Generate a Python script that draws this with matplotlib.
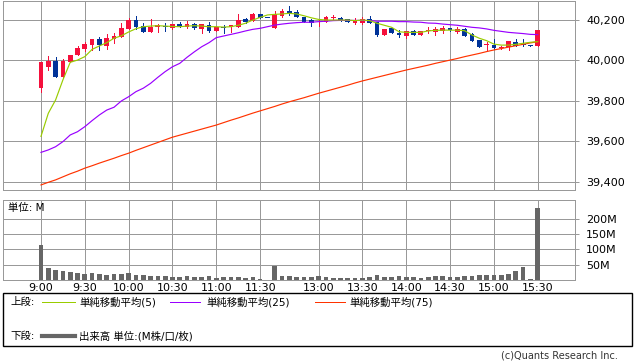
import matplotlib.pyplot as plt
from matplotlib.lines import Line2D
from matplotlib.patches import Rectangle
from matplotlib.ticker import FuncFormatter

plt.rcParams['font.family'] = ['DejaVu Sans', 'Noto Sans CJK JP']

# 5-minute candles, index 0 = 9:00, index 68 = 15:30
opens = [39866, 39969, 39997, 39920, 39991, 40027, 40057, 40076, 40106, 40073,
         40105, 40118, 40154, 40200, 40172, 40142, 40167, 40172, 40159, 40180,
         40167, 40180, 40154, 40175, 40147, 40165, 40164, 40167, 40205, 40197,
         40228, 40212, 40162, 40221, 40244, 40238, 40216, 40200, 40188, 40192,
         40212, 40208, 40205, 40187, 40187, 40205, 40189, 40127, 40160, 40134,
         40122, 40146, 40127, 40145, 40142, 40146, 40160, 40142, 40155, 40129,
         40101, 40076, 40078, 40060, 40065, 40090, 40080, 40075, 40073]
highs = [39993, 40022, 40017, 40006, 40027, 40073, 40091, 40106, 40116, 40131,
         40136, 40187, 40211, 40220, 40184, 40205, 40180, 40184, 40180, 40190,
         40195, 40185, 40182, 40190, 40170, 40175, 40177, 40230, 40212, 40233,
         40228, 40212, 40244, 40254, 40269, 40250, 40216, 40203, 40203, 40220,
         40225, 40213, 40205, 40208, 40217, 40220, 40189, 40157, 40160, 40151,
         40146, 40151, 40147, 40164, 40164, 40170, 40160, 40165, 40159, 40134,
         40101, 40093, 40105, 40070, 40095, 40105, 40106, 40076, 40151]
lows = [39846, 39953, 39920, 39912, 39991, 40027, 40048, 40052, 40052, 40057,
        40088, 40118, 40154, 40155, 40142, 40142, 40139, 40147, 40155, 40165,
        40159, 40155, 40134, 40139, 40145, 40134, 40142, 40167, 40185, 40197,
        40211, 40210, 40162, 40216, 40225, 40216, 40190, 40172, 40172, 40192,
        40200, 40197, 40188, 40180, 40180, 40187, 40122, 40127, 40134, 40118,
        40110, 40127, 40125, 40134, 40127, 40135, 40148, 40135, 40122, 40098,
        40068, 40052, 40055, 40055, 40052, 40073, 40073, 40073, 40073]
closes = [39993, 39997, 39920, 39997, 40027, 40063, 40083, 40106, 40076, 40111,
          40121, 40160, 40200, 40167, 40142, 40167, 40175, 40167, 40180, 40167,
          40180, 40159, 40180, 40147, 40167, 40163, 40177, 40200, 40192, 40228,
          40211, 40210, 40230, 40244, 40236, 40216, 40190, 40184, 40190, 40216,
          40214, 40197, 40188, 40200, 40203, 40187, 40127, 40157, 40134, 40126,
          40146, 40127, 40144, 40148, 40155, 40160, 40150, 40155, 40122, 40098,
          40068, 40080, 40060, 40065, 40095, 40073, 40078, 40073, 40151]

ma5 = [39625, 39739, 39805, 39904, 39991, 40002, 40019, 40055, 40072, 40088,
       40110, 40122, 40141, 40157, 40167, 40170, 40172, 40170, 40168, 40167,
       40170, 40172, 40170, 40167, 40167, 40165, 40167, 40174, 40184, 40200,
       40213, 40225, 40228, 40230, 40233, 40230, 40221, 40211, 40203, 40200,
       40200, 40200, 40200, 40197, 40200, 40197, 40184, 40174, 40164, 40142,
       40139, 40139, 40139, 40146, 40149, 40150, 40150, 40150, 40147, 40126,
       40110, 40098, 40081, 40076, 40076, 40080, 40085, 40090, 40093]
ma25 = [39546, 39558, 39574, 39599, 39632, 39648, 39673, 39703, 39731, 39755,
        39769, 39800, 39821, 39846, 39863, 39887, 39917, 39945, 39969, 39986,
        40016, 40043, 40068, 40088, 40113, 40121, 40129, 40137, 40146, 40154,
        40159, 40167, 40175, 40180, 40184, 40187, 40189, 40189, 40192, 40194,
        40197, 40198, 40198, 40198, 40198, 40197, 40194, 40194, 40194, 40192,
        40192, 40190, 40189, 40185, 40184, 40180, 40177, 40174, 40169, 40164,
        40161, 40156, 40149, 40144, 40139, 40136, 40133, 40129, 40128]
ma75 = [39385, 39398, 39410, 39425, 39440, 39453, 39468, 39480, 39493, 39505,
        39517, 39530, 39542, 39556, 39569, 39582, 39595, 39608, 39621, 39631,
        39641, 39651, 39661, 39671, 39681, 39693, 39705, 39716, 39728, 39740,
        39751, 39762, 39773, 39785, 39796, 39806, 39816, 39827, 39838, 39848,
        39858, 39868, 39878, 39889, 39899, 39908, 39917, 39926, 39935, 39944,
        39953, 39961, 39969, 39977, 39986, 39994, 40002, 40010, 40019, 40027,
        40035, 40044, 40052, 40059, 40066, 40073, 40080, 40087, 40093]

# volume in millions
volume = [114, 39, 34, 30, 26, 23, 20, 23, 20, 16, 20, 20, 23, 16, 16, 13, 13, 13,
          10, 10, 13, 10, 10, 13, 7, 10, 10, 10, 7, 10, 2, 0, 46, 13, 13, 10, 10,
          10, 13, 10, 7, 7, 7, 7, 7, 10, 15, 10, 10, 13, 10, 10, 7, 10, 13, 13,
          10, 10, 13, 13, 16, 16, 16, 16, 20, 29, 44, 2, 237]

tick_pos = [0, 6, 12, 18, 24, 30, 38, 44, 50, 56, 62, 68]
tick_labels = ['9:00', '9:30', '10:00', '10:30', '11:00', '11:30',
               '13:00', '13:30', '14:00', '14:30', '15:00', '15:30']

RED = '#f5103c'
BLUE = '#003399'
GRID = '#999999'
LW = 0.72  # one pixel at 100 dpi

W, H = 638, 362
fig = plt.figure(figsize=(W / 100, H / 100), dpi=100)


def box(x0, y0, x1, y1):
    return [x0 / W, 1 - y1 / H, (x1 - x0) / W, (y1 - y0) / H]


ax = fig.add_axes(box(3, 1, 575, 190))
axv = fig.add_axes(box(3, 200, 575, 280))

# candles
idx = list(range(len(opens)))
colors = [RED if c >= o else BLUE for o, c in zip(opens, closes)]
ax.vlines(idx, lows, highs, colors=colors, lw=LW, antialiased=False, zorder=2)
bottoms = [min(o, c) for o, c in zip(opens, closes)]
heights = [max(abs(c - o), 4) for o, c in zip(opens, closes)]
ax.bar(idx, heights, bottom=bottoms, width=0.65, color=colors, lw=0, zorder=2)

# moving averages
ax.plot(idx, ma75, color='#ff3300', lw=0.85, zorder=3)
ax.plot(idx, ma25, color='#9900ff', lw=0.85, zorder=3)
ax.plot(idx, ma5, color='#99cc00', lw=0.85, zorder=3)

axv.bar(idx, volume, width=0.64, color='#666666', zorder=2)

for a in (ax, axv):
    a.set_xlim(-5.2, 73.1)
    a.set_xticks(tick_pos)
    a.grid(color=GRID, lw=LW, antialiased=False, zorder=0)
    a.set_axisbelow(True)
    for s in a.spines.values():
        s.set_color(GRID)
        s.set_linewidth(LW)
    a.yaxis.tick_right()
    a.tick_params(axis='y', length=3, width=LW, color=GRID, labelsize=8, pad=5)
    a.tick_params(axis='x', length=0)

ax.set_ylim(39360, 40294)
ax.set_yticks([39400, 39600, 39800, 40000, 40200])
ax.yaxis.set_major_formatter(FuncFormatter(lambda v, p: f'{v:,.0f}'))
ax.tick_params(axis='x', labelbottom=False)

axv.set_ylim(0, 262)
axv.set_yticks([50, 100, 150, 200])
axv.set_yticklabels(['50M', '100M', '150M', '200M'])
axv.set_xticklabels(tick_labels)
axv.tick_params(axis='x', labelsize=8, pad=2)
fig.text(8 / W, 1 - 208 / H, '単位: M', fontsize=7.5, va='center')

# legend box
fig.add_artist(Rectangle((3 / W, 1 - 346 / H), 629 / W, 53 / H,
                         transform=fig.transFigure, fill=False,
                         ec='black', lw=1))
y1 = 1 - 302 / H
y2 = 1 - 336 / H
fig.text(10 / W, y1, '上段:', fontsize=7.5, va='center')
legend_items = [(42, 75, 79, '#99cc00', '単純移動平均(5)'),
                (170, 200, 206, '#9900ff', '単純移動平均(25)'),
                (315, 345, 349, '#ff3300', '単純移動平均(75)')]
for lx0, lx1, tx, col, label in legend_items:
    fig.add_artist(Line2D([lx0 / W, lx1 / W], [y1, y1], color=col, lw=LW,
                          antialiased=False, transform=fig.transFigure))
    fig.text(tx / W, y1, label, fontsize=7.5, va='center')

fig.text(10 / W, y2, '下段:', fontsize=7.5, va='center')
fig.add_artist(Line2D([42 / W, 75 / W], [y2, y2], color='#666666', lw=3,
                      transform=fig.transFigure))
fig.text(79 / W, y2, '出来高 単位:(M株/口/枚)', fontsize=7.5, va='center')

fig.text(618 / W, 1 - 356 / H, '(c)Quants Research Inc.', fontsize=7,
         ha='right', va='center', color='#333333')

fig.savefig('out.png', dpi=100)
